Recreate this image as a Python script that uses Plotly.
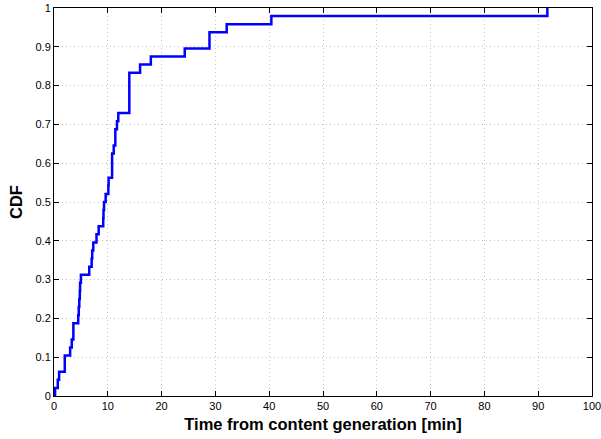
import plotly.graph_objects as go

# Step positions (min) and CDF level reached at each step (count out of 48)
step_times = [0.2, 0.7, 0.95, 2.0, 3.0, 3.3, 3.6, 4.5, 4.6, 4.7, 4.8, 4.85, 5.0,
              6.55, 7.0, 7.1, 7.3, 7.9, 8.3, 9.15, 9.2, 9.3, 9.6, 10.1, 10.15,
              10.8, 11.1, 11.4, 11.7, 11.95, 14.0, 16.0, 18.0, 24.3, 28.9, 32.1,
              40.4, 91.7]
step_counts = [1, 2, 3, 5, 6, 7, 9, 10, 11, 12, 13, 14, 15,
               16, 17, 18, 19, 20, 21, 22, 23, 24, 25, 26, 27,
               30, 31, 33, 34, 35, 40, 41, 42, 43, 45, 46,
               47, 48]
total = 48

x_ticks = [0, 10, 20, 30, 40, 50, 60, 70, 80, 90, 100]
y_ticks = [0, 0.1, 0.2, 0.3, 0.4, 0.5, 0.6, 0.7, 0.8, 0.9, 1]
y_tick_labels = ["0", "0.1", "0.2", "0.3", "0.4", "0.5", "0.6", "0.7", "0.8", "0.9", "1"]

xs = [step_times[0]] + step_times
ys = [0] + [c / total for c in step_counts]

fig = go.Figure()
fig.add_trace(go.Scatter(x=xs, y=ys, mode="lines", line=dict(color="#0000ff", width=2.5, shape="hv"),
                         showlegend=False, hoverinfo="skip"))

axis_common = dict(
    showline=True, linecolor="black", linewidth=1, mirror="ticks",
    ticks="inside", ticklen=5, tickcolor="black", tickwidth=1,
    showgrid=True, gridcolor="#c4c4c4", griddash="1px,3px", gridwidth=1,
    zeroline=False, tickfont=dict(family="Liberation Sans, Arial", size=11, color="black"),
    ticklabeloverflow="allow", automargin=False,
)

fig.update_xaxes(range=[0, 100], tickvals=x_ticks, **axis_common,
                 title=dict(text="<b>Time from content generation [min]</b>",
                            font=dict(family="Liberation Sans, Arial", size=16.5, color="black"),
                            standoff=7))
fig.update_yaxes(range=[0, 1], tickvals=y_ticks, ticktext=y_tick_labels, **axis_common,
                 title=dict(text="<b>CDF</b>",
                            font=dict(family="Liberation Sans, Arial", size=16.5, color="black"),
                            standoff=8))

fig.update_layout(width=601, height=439, margin=dict(l=54, r=9, t=8, b=43),
                  plot_bgcolor="white", paper_bgcolor="white")

fig.write_html("out.html")
